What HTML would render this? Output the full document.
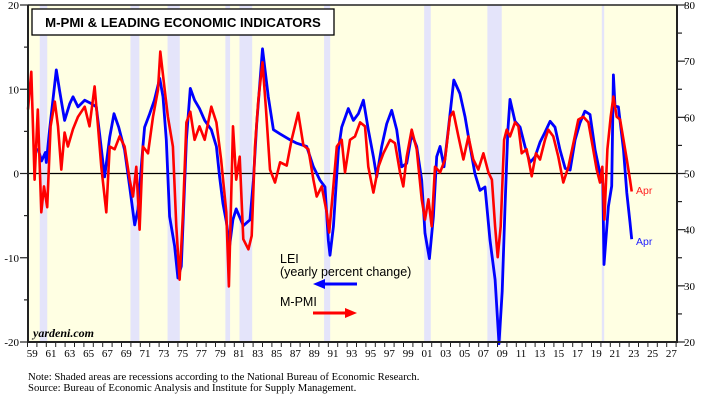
<!DOCTYPE html>
<html><head><meta charset="utf-8"><style>
html,body{margin:0;padding:0;background:#fff;width:705px;height:404px;overflow:hidden}
svg{display:block}
text{font-family:"Liberation Serif",serif}
</style></head><body>
<svg id="chart" width="705" height="404" viewBox="0 0 705 404">
<rect x="28" y="5" width="649" height="337" fill="#ffffe3"/>
<g id="rec"></g>
<line x1="28" y1="173.5" x2="677" y2="173.5" stroke="#000" stroke-width="1.2"/>
<g id="lines"></g>
<g id="axes"></g>
<rect x="32" y="9" width="302" height="26" fill="#fff" stroke="#000" stroke-width="1.3"/>
<text x="183" y="27" text-anchor="middle" style="font-family:'Liberation Sans',sans-serif;font-weight:bold;font-size:13.2px">M-PMI &amp; LEADING ECONOMIC INDICATORS</text>
<text x="280" y="263" style="font-family:'Liberation Sans',sans-serif;font-size:12.5px">LEI</text>
<text x="280" y="276" style="font-family:'Liberation Sans',sans-serif;font-size:12.5px">(yearly percent change)</text>
<g><line x1="322" y1="284" x2="357" y2="284" stroke="#0000ff" stroke-width="3"/><polygon points="313,284 325,279 325,289" fill="#0000ff"/></g>
<text x="280" y="306" style="font-family:'Liberation Sans',sans-serif;font-size:12.5px">M-PMI</text>
<g><line x1="313" y1="313" x2="348" y2="313" stroke="#ff0000" stroke-width="3"/><polygon points="357,313 345,308 345,318" fill="#ff0000"/></g>
<text x="33" y="337" style="font-weight:bold;font-style:italic;font-size:12px">yardeni.com</text>
<text x="636" y="194" fill="#ff2020" style="font-family:'Liberation Sans',sans-serif;font-size:10.5px">Apr</text>
<text x="636" y="245" fill="#2020ff" style="font-family:'Liberation Sans',sans-serif;font-size:10.5px">Apr</text>
<text x="28" y="380" style="font-size:10.7px">Note: Shaded areas are recessions according to the National Bureau of Economic Research.</text>
<text x="28" y="391" style="font-size:10.7px">Source: Bureau of Economic Analysis and Institute for Supply Management.</text>
</svg>
<script>
const recStart=[1960.3,1969.95,1973.9,1980.05,1981.55,1990.55,2001.2,2007.92,2020.1];
const recEnd=[1961.1,1970.9,1975.2,1980.55,1982.9,1991.2,2001.9,2009.45,2020.35];
const leiYears=[1960.1,1960.5,1960.9,1961.0,1961.35,1962.06,1962.4,1962.95,1963.5,1963.84,1964.37,1965.08,1965.8,1966.32,1966.67,1967.2,1967.74,1968.2,1968.7,1969.33,1969.87,1970.4,1970.75,1971.28,1971.46,1972.0,1972.5,1973.06,1973.41,1973.77,1974.12,1974.65,1975.0,1975.36,1975.9,1976.32,1976.78,1977.3,1977.85,1978.55,1979.1,1979.44,1979.8,1980.15,1980.5,1980.85,1981.2,1981.96,1982.67,1983.03,1983.38,1984.0,1984.62,1985.16,1985.87,1986.93,1987.64,1988.7,1989.41,1990.12,1990.65,1991.0,1991.18,1991.54,1992.07,1992.43,1993.13,1993.67,1994.2,1994.73,1995.26,1995.8,1996.15,1996.68,1997.21,1997.74,1998.28,1998.81,1999.34,1999.87,2000.4,2000.94,2001.29,2001.75,2002.18,2002.53,2002.89,2003.31,2003.77,2004.35,2005.0,2005.55,2006.08,2006.6,2007.14,2007.67,2008.2,2008.74,2009.16,2009.5,2009.8,2010.1,2010.33,2010.86,2011.4,2011.93,2012.46,2013.0,2013.52,2014.05,2014.6,2015.12,2015.65,2016.2,2016.72,2017.25,2017.78,2018.3,2018.84,2019.38,2019.9,2020.2,2020.33,2020.8,2021.15,2021.33,2021.5,2021.86,2022.4,2022.75,2023.1,2023.28];
const leiValues=[3.0,1.5,2.5,1.3,5.2,12.3,9.9,6.3,8.3,9.1,7.9,8.7,8.3,7.9,4.7,-0.4,4.3,7.1,5.5,2.8,-1.6,-6.1,-4.3,3.2,5.5,7.1,8.7,11.3,9.1,4.0,-5.1,-8.6,-12.4,-11.0,4.0,10.1,8.7,7.7,6.3,5.2,3.2,-0.4,-3.6,-5.7,-8.6,-5.5,-4.2,-6.2,-5.5,-0.8,5.9,14.8,9.1,5.2,4.7,4.0,3.6,3.2,0.8,-0.8,-1.6,-7.9,-9.7,-6.3,2.8,5.5,7.7,6.3,7.1,8.7,5.2,2.0,-0.4,3.2,5.9,7.5,5.2,0.8,1.2,4.7,3.2,-0.8,-7.1,-10.1,-5.1,2.0,3.2,0.8,5.2,11.1,9.5,6.7,3.2,0,-2.0,-1.6,-7.9,-12.6,-20.2,-14,-4,5,8.8,6.2,5.5,3.2,1.3,2.0,3.7,4.9,6.2,5.5,2.8,0.6,0.4,4.0,6.0,7.4,7.0,2.8,0,-1.2,-10.8,-3.9,-1.5,11.7,8.0,7.9,2.8,-2.3,-5.8,-7.8];
const pmiYears=[1959.05,1959.4,1959.76,1960.1,1960.47,1960.75,1961.1,1961.46,1961.9,1962.24,1962.6,1962.95,1963.3,1963.84,1964.37,1965.08,1965.6,1966.14,1966.5,1966.85,1967.38,1967.74,1968.27,1968.8,1969.33,1969.87,1970.22,1970.57,1970.93,1971.28,1971.82,1972.35,1972.88,1973.13,1973.6,1973.94,1974.47,1974.83,1975.18,1975.54,1975.9,1976.32,1976.78,1977.3,1977.85,1978.55,1979.1,1979.6,1980.15,1980.43,1980.86,1981.2,1981.57,1981.96,1982.5,1982.85,1983.2,1983.56,1984.0,1984.37,1984.8,1985.33,1985.87,1986.57,1987.1,1987.8,1988.35,1988.88,1989.41,1989.77,1990.3,1990.83,1991.1,1991.47,1991.9,1992.43,1992.78,1993.31,1993.84,1994.38,1994.9,1995.26,1995.8,1996.33,1996.86,1997.57,1998.1,1998.63,1998.98,1999.34,1999.87,2000.4,2000.94,2001.29,2001.65,2002.0,2002.35,2002.89,2003.42,2003.95,2004.3,2004.84,2005.37,2005.9,2006.43,2006.96,2007.5,2008.03,2008.4,2008.74,2009.02,2009.34,2009.7,2009.98,2010.33,2010.86,2011.22,2011.57,2012.1,2012.64,2013.1,2013.52,2014.05,2014.4,2014.94,2015.47,2016.0,2016.54,2017.07,2017.6,2018.13,2018.67,2019.13,2019.55,2019.9,2020.15,2020.37,2020.69,2021.04,2021.33,2021.68,2022.04,2022.4,2022.75,2023.1,2023.28];
const pmiValues=[61.4,68.1,48.9,61.4,43.1,47.7,44.0,58.4,62.8,58.4,50.7,57.3,54.8,57.9,60.1,61.9,58.4,65.5,58.4,51.2,43.1,54.8,54.3,56.6,54.8,48.9,45.9,51.2,40.0,54.8,53.6,60.1,64.9,71.7,64.9,60.1,54.8,40.6,31.1,43.0,59.1,61.0,56.0,58.4,56.0,61.9,59.1,52.5,43.1,29.9,58.4,48.9,53.0,38.3,36.5,38.9,54.8,63.2,69.8,61.4,50.7,48.4,52.0,51.4,56.0,60.8,55.0,54.3,48.9,45.9,47.7,43.1,39.5,46.4,54.8,56.0,50.2,56.0,56.6,59.1,58.4,51.2,46.6,51.2,53.6,56.0,55.4,50.2,47.7,53.0,57.8,54.3,45.4,41.8,45.4,40.6,51.2,50.2,52.5,60.1,61.0,56.6,52.5,56.6,52.5,50.7,53.6,50.2,48.9,40.6,35.1,40.6,56.0,57.8,56.6,59.1,58.4,53.6,54.3,49.5,53.6,52.5,56.0,57.8,56.6,53.0,48.4,51.2,55.4,59.6,60.1,59.1,54.8,50.7,48.4,51.2,41.8,54.3,60.1,63.7,60.1,59.6,56.0,52.5,48.9,46.8];
const leftTicks=[20,10,0,-10,-20];
const rightTicks=[80,70,60,50,40,30,20];

const NS="http://www.w3.org/2000/svg";
const L=28,R=677,T=5,B=342;
const x=yr=>27.5+(yr-1959)*9.4;
const yL=v=>T+(20-v)/40*(B-T);
const yR=v=>T+(80-v)/60*(B-T);
function mk(tag,attrs,parent){const e=document.createElementNS(NS,tag);for(const k in attrs)e.setAttribute(k,attrs[k]);parent.appendChild(e);return e;}
const rec=document.getElementById('rec');
recStart.forEach((s,i)=>{const r=mk('rect',{x:x(s),y:T,width:x(recEnd[i])-x(s),height:B-T,fill:'#e4e4fa'},rec);

});
const lines=document.getElementById('lines');
const lp=mk('polyline',{points:leiYears.map((yr,i)=>x(yr).toFixed(1)+','+yL(leiValues[i]).toFixed(1)).join(' '),fill:'none',stroke:'#0000ff','stroke-width':2.8,'stroke-linejoin':'round'},lines);


const pp=mk('polyline',{points:pmiYears.map((yr,i)=>x(yr).toFixed(1)+','+yR(pmiValues[i]).toFixed(1)).join(' '),fill:'none',stroke:'#ff0000','stroke-width':2.6,'stroke-linejoin':'round'},lines);


const ax=document.getElementById('axes');
mk('line',{x1:L,y1:T,x2:R,y2:T,stroke:'#222','stroke-width':1.5},ax);
mk('line',{x1:L,y1:T,x2:L,y2:B+1,stroke:'#222','stroke-width':2},ax);
mk('line',{x1:R,y1:T,x2:R,y2:B+1,stroke:'#222','stroke-width':2},ax);
mk('line',{x1:L,y1:B,x2:R,y2:B,stroke:'#222','stroke-width':2},ax);
for(let v=-20;v<=20;v+=5){const major=v%10===0;mk('line',{x1:major?20:24,y1:yL(v),x2:L,y2:yL(v),stroke:'#222','stroke-width':1.2},ax);}
leftTicks.forEach(v=>{const t=mk('text',{x:19,y:yL(v)+4,'text-anchor':'end','font-size':11},ax);t.textContent=v;

});
for(let v=20;v<=80;v+=5){const major=v%10===0;mk('line',{x1:R,y1:yR(v),x2:major?R+8:R+5,y2:yR(v),stroke:'#222','stroke-width':1.2},ax);}
rightTicks.forEach(v=>{const t=mk('text',{x:684,y:yR(v)+4,'font-size':11},ax);t.textContent=v;

});
for(let yr=1959;yr<=2028;yr++){mk('line',{x1:x(yr),y1:B,x2:x(yr),y2:B+5,stroke:'#222','stroke-width':1},ax);}
for(let yr=1959;yr<=2027;yr+=2){const t=mk('text',{x:x(yr+0.5),y:357,'text-anchor':'middle','font-size':11},ax);t.textContent=String(yr%100).padStart(2,'0');

}
</script>
</body></html>
